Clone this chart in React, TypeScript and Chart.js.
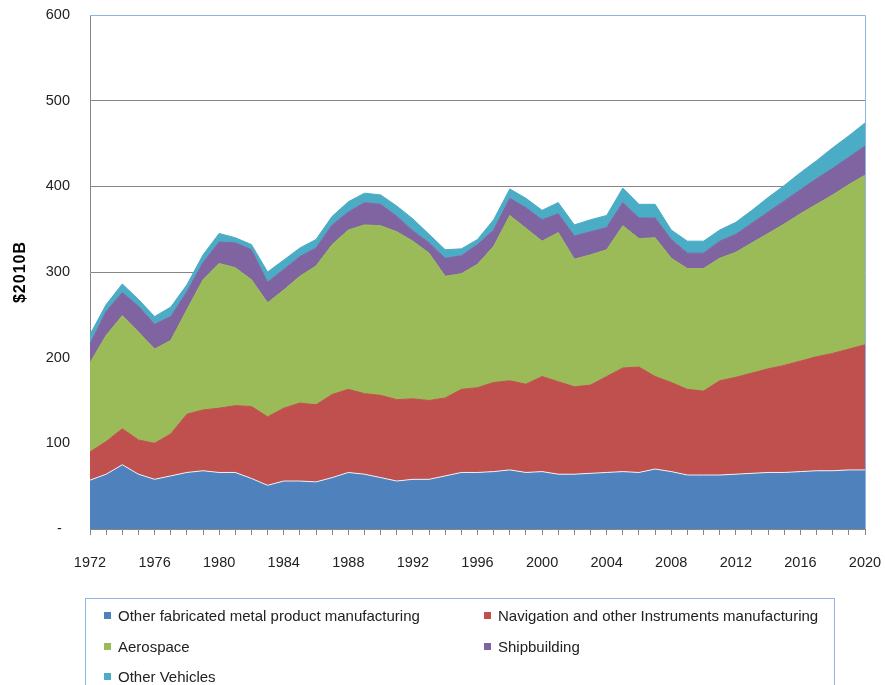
import React, { useEffect, useRef } from 'react';
import { Chart, registerables } from 'chart.js';

Chart.register(...registerables);

const years = [
  '1972', '1973', '1974', '1975', '1976', '1977', '1978', '1979', '1980', '1981',
  '1982', '1983', '1984', '1985', '1986', '1987', '1988', '1989', '1990', '1991',
  '1992', '1993', '1994', '1995', '1996', '1997', '1998', '1999', '2000', '2001',
  '2002', '2003', '2004', '2005', '2006', '2007', '2008', '2009', '2010', '2011',
  '2012', '2013', '2014', '2015', '2016', '2017', '2018', '2019', '2020',
];

const otherFabricated = [
  57, 64, 75, 64, 58, 62, 66, 68, 66, 66,
  59, 51, 56, 56, 55, 60, 66, 64, 60, 56,
  58, 58, 62, 66, 66, 67, 69, 66, 67, 64,
  64, 65, 66, 67, 66, 70, 67, 63, 63, 63,
  64, 65, 66, 66, 67, 68, 68, 69, 69,
];

const navigation = [
  33, 38, 42, 40, 42, 49, 68, 71, 75, 78,
  84, 80, 85, 91, 90, 97, 97, 94, 96, 95,
  94, 92, 91, 97, 99, 104, 104, 103, 111, 108,
  102, 103, 112, 121, 123, 108, 104, 100, 98, 110,
  113, 117, 121, 125, 129, 133, 137, 141, 146,
];

const aerospace = [
  104, 124, 132, 126, 110, 109, 122, 152, 169, 161,
  148, 133, 138, 148, 162, 175, 186, 197, 198, 196,
  184, 172, 142, 135, 144, 159, 193, 182, 158, 174,
  149, 152, 148, 166, 150, 162, 145, 141, 143, 143,
  146, 152, 158, 165, 172, 178, 185, 192, 198,
];

const shipbuilding = [
  22, 28, 27, 30, 29, 28, 21, 20, 25, 29,
  35, 24, 24, 23, 21, 23, 21, 26, 25, 18,
  12, 12, 21, 21, 23, 19, 20, 24, 25, 22,
  27, 27, 26, 27, 24, 23, 22, 18, 18, 20,
  21, 23, 25, 27, 28, 30, 31, 32, 34,
];

const otherVehicles = [
  11, 8, 10, 8, 9, 11, 8, 9, 10, 6,
  6, 12, 11, 10, 10, 10, 12, 11, 11, 12,
  14, 10, 10, 8, 6, 12, 11, 11, 11, 13,
  13, 14, 14, 17, 16, 16, 11, 14, 14, 13,
  14, 15, 17, 18, 20, 21, 24, 25, 27,
];

const seriesNames = [
  'Other fabricated metal product manufacturing',
  'Navigation and other Instruments manufacturing',
  'Aerospace',
  'Shipbuilding',
  'Other Vehicles',
];

const seriesColors = ['#4F81BD', '#C0504D', '#9BBB59', '#8064A2', '#4BACC6'];

const yTitle = '$2010B';
const yMin = 0;
const yMax = 600;
const yStep = 100;

const FONT = '"Liberation Sans", Arial, sans-serif';

const decorPlugin = {
  id: 'decor',
  afterDraw(chart: any) {
    const { ctx, chartArea } = chart;
    ctx.save();
    ctx.strokeStyle = '#8EB4E3';
    ctx.lineWidth = 1;
    ctx.beginPath();
    ctx.moveTo(chartArea.left, Math.round(chartArea.top) + 0.5);
    ctx.lineTo(Math.round(chartArea.right) + 0.5, Math.round(chartArea.top) + 0.5);
    ctx.lineTo(Math.round(chartArea.right) + 0.5, chartArea.bottom);
    ctx.stroke();
    ctx.translate(21, (chartArea.top + chartArea.bottom) / 2);
    ctx.rotate(-Math.PI / 2);
    ctx.font = 'bold 16px ' + FONT;
    try {
      ctx.letterSpacing = '1px';
    } catch (e) {
      /* ignore */
    }
    ctx.fillStyle = '#000';
    ctx.textAlign = 'center';
    ctx.textBaseline = 'middle';
    ctx.fillText(yTitle, 0, 0);
    ctx.restore();
  },
};

export default function App() {
  const canvasRef = useRef<HTMLCanvasElement | null>(null);

  useEffect(() => {
    if (!canvasRef.current) return;
    const seriesData = [otherFabricated, navigation, aerospace, shipbuilding, otherVehicles];
    const chart = new Chart(canvasRef.current, {
      type: 'line',
      data: {
        labels: years,
        datasets: seriesData.map((d, i) => ({
          label: seriesNames[i],
          data: d,
          backgroundColor: seriesColors[i],
          borderColor: i === 0 ? 'rgba(255,255,255,0.85)' : seriesColors[i],
          borderWidth: 1,
          fill: i === 0 ? 'origin' : '-1',
          pointRadius: 0,
          pointHoverRadius: 0,
          tension: 0,
        })),
      },
      options: {
        responsive: false,
        animation: false,
        events: [],
        layout: { padding: { top: 15, right: 20, bottom: 111, left: 0 } },
        plugins: {
          legend: { display: false },
          tooltip: { enabled: false },
          title: { display: false },
        },
        scales: {
          x: {
            type: 'category',
            offset: false,
            grid: {
              display: true,
              drawOnChartArea: false,
              drawTicks: true,
              tickLength: 6,
              color: '#868686',
            },
            border: { color: '#868686' },
            ticks: {
              autoSkip: false,
              maxRotation: 0,
              minRotation: 0,
              padding: 19,
              color: '#222',
              font: { family: FONT, size: 14.5 },
              callback: (_v: any, idx: number) => (idx % 4 === 0 ? years[idx] : ''),
            },
            afterFit: (scale: any) => {
              scale.height = 45;
              scale.paddingLeft = 0;
              scale.paddingRight = 0;
            },
          },
          y: {
            stacked: true,
            min: yMin,
            max: yMax,
            grid: {
              drawTicks: false,
              color: '#868686',
            },
            border: { color: '#868686' },
            ticks: {
              stepSize: yStep,
              padding: 20,
              color: '#222',
              font: { family: FONT, size: 14.5 },
              callback: (v: any) => (v === 0 ? '-  ' : String(v)),
            },
            afterFit: (scale: any) => {
              scale.width = 90;
              scale.paddingTop = 0;
              scale.paddingBottom = 0;
            },
          },
        },
      },
      plugins: [decorPlugin],
    } as any);
    return () => chart.destroy();
  }, []);

  const legendCols = [104, 484];
  const legendRows = [615, 646, 676];

  return (
    <div
      style={{
        position: 'fixed',
        left: 0,
        top: 0,
        width: 885,
        height: 685,
        overflow: 'hidden',
        background: '#fff',
      }}
    >
      <canvas ref={canvasRef} width={885} height={685} style={{ position: 'absolute', left: 0, top: 0, width: 885, height: 685 }} />
      <div
        style={{
          position: 'absolute',
          left: 85,
          top: 598,
          width: 750,
          height: 110,
          border: '1px solid #8EB4E3',
          boxSizing: 'border-box',
        }}
      />
      {seriesNames.map((name, i) => {
        const col = legendCols[i % 2];
        const row = legendRows[Math.floor(i / 2)];
        return (
          <div
            key={name}
            style={{
              position: 'absolute',
              left: col,
              top: row - 10,
              height: 20,
              display: 'flex',
              alignItems: 'center',
              fontFamily: FONT,
              fontSize: 15,
              color: '#222',
              whiteSpace: 'nowrap',
            }}
          >
            <span
              style={{
                display: 'inline-block',
                width: 7,
                height: 7,
                background: seriesColors[i],
                marginRight: 7,
              }}
            />
            <span>{name}</span>
          </div>
        );
      })}
    </div>
  );
}
